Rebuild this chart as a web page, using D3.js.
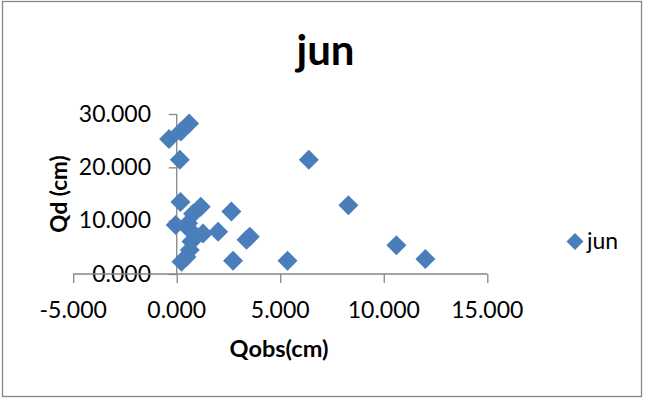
<!DOCTYPE html>
<html>
<head>
<meta charset="utf-8">
<script src="https://cdn.jsdelivr.net/npm/d3@7"></script>
<style>
    html, body { margin: 0; padding: 0; background: #fff; }
    svg { display: block; font-family: Lato, "Open Sans", sans-serif; }
</style>
</head>
<body>
<div id="chart"></div>
<script>
// Series values
var qobs = [-0.37, 0.2, 0.6, 0.15, 6.38, 0.18, 1.16, 0.79, 2.64, 8.29,
    -0.05, 0.55, 0.63, 1.27, 2.0, 3.53, 3.37, 0.71, 0.63, 0.47,
    0.23, 2.72, 5.35, 10.61, 12.01];
var qd = [25.3, 26.7, 28.2, 21.4, 21.4, 13.5, 12.6, 11.3, 11.7, 12.9,
    9.2, 9.5, 8.3, 7.6, 7.9, 7.0, 6.4, 6.1, 4.5, 3.2,
    2.3, 2.5, 2.5, 5.4, 2.8];

var xTicks = [-5, 0, 5, 10, 15];
var yTicks = [0, 10, 20, 30];
var seriesName = 'jun';

(function(d3) {
    'use strict';

    var width = 645,
        height = 400,
        axisColor = '#868686',
        markerColor = '#4a7ebb';

    var svg = d3.select('#chart').append('svg')
        .attr('width', width)
        .attr('height', height);

    // Outer chart border
    svg.append('rect')
        .attr('x', 2.5)
        .attr('y', 1.5)
        .attr('width', 639)
        .attr('height', 395)
        .attr('fill', '#fff')
        .attr('stroke', axisColor)
        .attr('stroke-width', 1.3);

    var x = d3.scaleLinear().domain([-5, 15]).range([73.2, 487.3]);
    var y = d3.scaleLinear().domain([0, 30]).range([274, 114]);

    // Excel style labels use a plain hyphen for negatives
    var fmt = function(d) {
        return d3.format('.3f')(d).replace('\u2212', '-');
    };

    // Title
    svg.append('text')
        .attr('x', 325.5)
        .attr('y', 65)
        .attr('text-anchor', 'middle')
        .attr('font-size', 42)
        .attr('font-weight', 'bold')
        .text(seriesName);

    // Tick labels
    svg.append('g').selectAll('text')
        .data(yTicks)
        .enter().append('text')
        .attr('x', 151)
        .attr('y', function(d) { return y(d) + 7.8; })
        .attr('text-anchor', 'end')
        .attr('font-size', 23)
        .text(fmt);

    svg.append('g').selectAll('text')
        .data(xTicks)
        .enter().append('text')
        .attr('x', function(d) { return x(d); })
        .attr('y', 317.5)
        .attr('text-anchor', 'middle')
        .attr('font-size', 23)
        .text(fmt);

    // Axes: x axis along y = 0, y axis at x = 0
    var xAxis = d3.axisBottom(x).tickValues(xTicks).tickSize(9).tickFormat('');
    var yAxis = d3.axisLeft(y).tickValues(yTicks).tickSize(8).tickFormat('');

    svg.append('g')
        .attr('transform', 'translate(0,' + y(0) + ')')
        .call(xAxis)
        .call(function(g) {
            g.selectAll('path, line').attr('stroke', axisColor).attr('stroke-width', 1.3);
            g.select('.domain').attr('d', 'M' + x(-5) + ',0H' + x(15));
        });

    svg.append('g')
        .attr('transform', 'translate(' + x(0) + ',0)')
        .call(yAxis)
        .call(function(g) {
            g.selectAll('path, line').attr('stroke', axisColor).attr('stroke-width', 1.3);
            g.select('.domain').attr('d', 'M0,' + y(30) + 'V' + y(0));
        });

    // Axis titles
    svg.append('text')
        .attr('x', 279)
        .attr('y', 357)
        .attr('text-anchor', 'middle')
        .attr('font-size', 23.5)
        .attr('font-weight', 'bold')
        .text('Qobs(cm)');

    svg.append('text')
        .attr('transform', 'translate(67,194) rotate(-90)')
        .attr('text-anchor', 'middle')
        .attr('font-size', 22.5)
        .attr('font-weight', 'bold')
        .text('Qd (cm)');

    // Markers: squares turned 45 degrees
    var diamond = d3.symbol().type(d3.symbolSquare).size(200);

    svg.append('g').selectAll('path')
        .data(d3.range(qobs.length))
        .enter().append('path')
        .attr('d', diamond)
        .attr('transform', function(i) {
            return 'translate(' + x(qobs[i]) + ',' + y(qd[i]) + ') rotate(45)';
        })
        .attr('fill', markerColor);

    // Legend
    var legend = svg.append('g').attr('transform', 'translate(575,241.5)');
    legend.append('path')
        .attr('d', d3.symbol().type(d3.symbolSquare).size(144))
        .attr('transform', 'rotate(45)')
        .attr('fill', markerColor);
    legend.append('text')
        .attr('x', 12)
        .attr('y', 7.5)
        .attr('font-size', 23)
        .text(seriesName);
}(d3));
</script>
</body>
</html>
